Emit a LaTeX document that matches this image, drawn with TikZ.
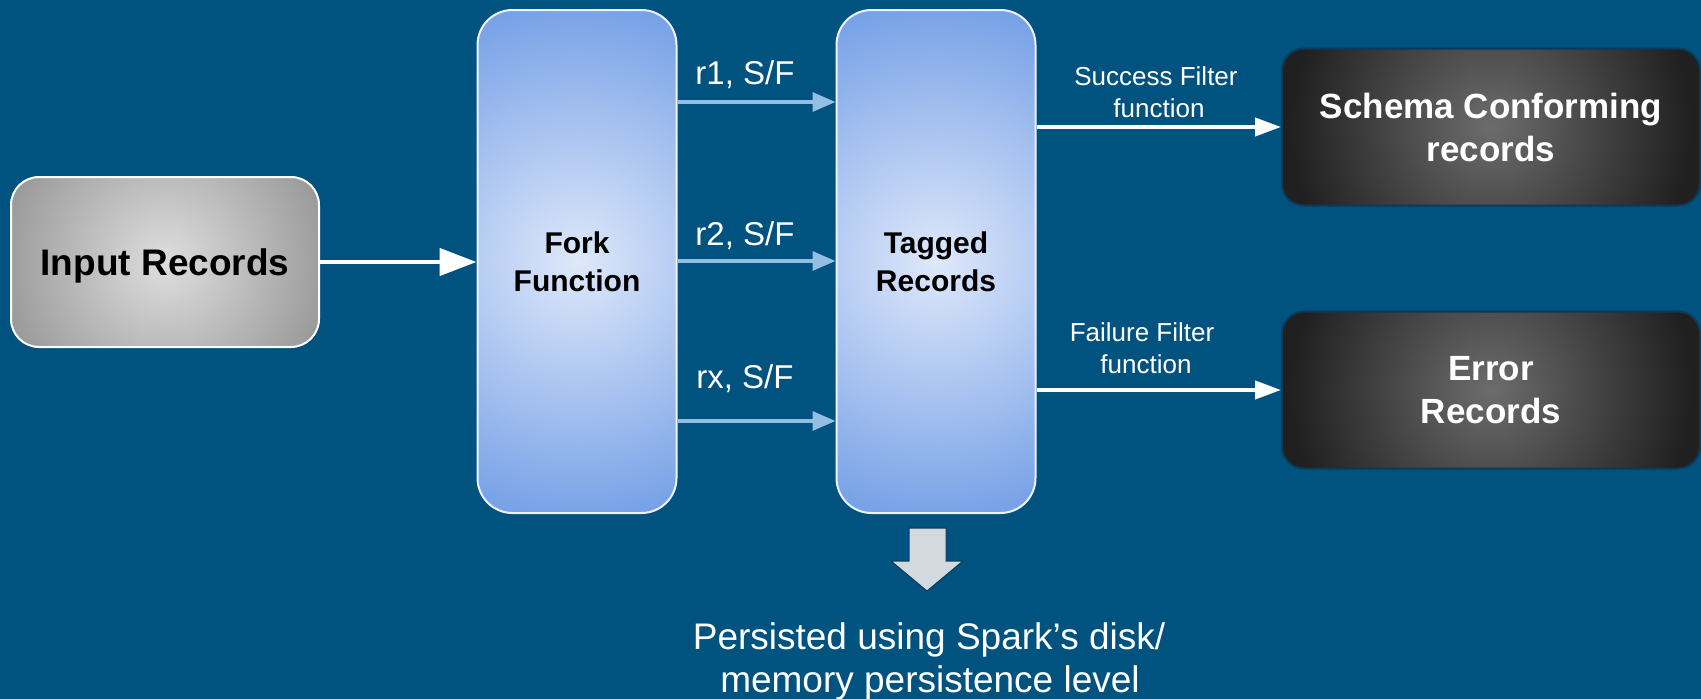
\documentclass[tikz,border=0pt]{standalone}
\usepackage{fontspec}
\setmainfont{Liberation Sans}
\usetikzlibrary{arrows.meta}

\definecolor{bg}{RGB}{0,82,127}
\definecolor{sfblue}{RGB}{148,190,226}
\definecolor{fninner}{RGB}{222,232,250}
\definecolor{fnouter}{RGB}{120,162,231}
\definecolor{grayinner}{RGB}{222,222,222}
\definecolor{grayouter}{RGB}{150,150,150}
\definecolor{darkinner}{RGB}{108,108,108}
\definecolor{darkouter}{RGB}{32,32,32}
\definecolor{darkedge}{RGB}{12,58,88}
\definecolor{downfill}{RGB}{211,218,223}

% circular glows at their natural size
\pgfdeclareradialshading{grayglow}{\pgfpointorigin}{color(0bp)=(grayinner); color(175bp)=(grayouter); color(260bp)=(grayouter)}
\pgfdeclareradialshading{fnglow}{\pgfpointorigin}{color(0bp)=(fninner); color(255bp)=(fnouter); color(300bp)=(fnouter)}
\pgfdeclareradialshading{darkglow}{\pgfpointorigin}{color(0bp)=(darkinner); color(200bp)=(darkouter); color(260bp)=(darkouter)}

\tikzset{
  glow/.style={path picture={\node[inner sep=0pt, outer sep=0pt]
      at (path picture bounding box.center) {\pgfuseshading{#1}};}},
  inbox/.style={rounded corners=28pt, draw=white, line width=2pt,
    fill=grayouter, glow=grayglow,
    minimum width=308pt, minimum height=170pt, inner sep=0pt,
    text depth=0pt, font=\bfseries\fontsize{37}{44}\selectfont},
  fnbox/.style={rounded corners=35pt, draw={rgb,255:red,238;green,243;blue,251}, line width=2pt,
    fill=fnouter, glow=fnglow,
    minimum width=199pt, minimum height=503pt, inner sep=0pt, align=center,
    font=\bfseries\fontsize{30}{38}\selectfont},
  darkbox/.style={rounded corners=22pt, draw=darkedge, line width=2pt,
    fill=darkouter, glow=darkglow, text=white,
    minimum width=418pt, minimum height=157pt, inner sep=0pt, align=center,
    font=\bfseries\fontsize{35}{43}\selectfont},
  bigarrow/.style={draw=white, line width=4.5pt, -{Triangle[length=37pt,width=27pt,fill=white]}},
  tagarrow/.style={draw=sfblue, line width=3.3pt, -{Triangle[length=23pt,width=19pt,fill=sfblue]}},
  filterarrow/.style={draw=white, line width=4pt, -{Triangle[length=26pt,width=18pt,fill=white]}},
  tagtext/.style={text=white, anchor=base, inner sep=0pt, font=\fontsize{33}{40}\selectfont},
  filtertext/.style={text=white, anchor=base, inner sep=0pt, font=\fontsize{26}{32}\selectfont},
  notetext/.style={text=white, anchor=base, inner sep=0pt, font=\fontsize{37}{43}\selectfont}
}

\begin{document}
\begin{tikzpicture}[x=1pt,y=-1pt]
  % background
  \fill[bg] (0,0) rectangle (1701,699);
  \useasboundingbox (0,0) rectangle (1701,699);

  % boxes
  \node[inbox] (in) at (165,262) {Input Records};
  \node[fnbox] (fork) at (577,261.5) {Fork\\Function};
  \node[fnbox] (tag) at (936,261.5) {Tagged\\Records};
  \node[darkbox] (sc) at (1491,127) {Schema Conforming\\records};
  \node[darkbox] (err) at (1491,390) {Error\\Records};

  % input to fork
  \draw[bigarrow] (in.east) -- (in.east -| fork.west);

  % tagged record streams
  \draw[tagarrow] (fork.east |- 0,102) -- (tag.west |- 0,102);
  \draw[tagarrow] (fork.east |- 0,261) -- (tag.west |- 0,261);
  \draw[tagarrow] (fork.east |- 0,421) -- (tag.west |- 0,421);
  \node[tagtext] (l1) at (745,84) {r1, S/F};
  \node[tagtext] (l2) at (745,245) {r2, S/F};
  \node[tagtext] (l3) at (745,388) {rx, S/F};

  % filters
  \draw[filterarrow] (tag.east |- 0,127) -- (sc.west |- 0,127);
  \draw[filterarrow] (tag.east |- 0,390) -- (err.west |- 0,390);
  \node[filtertext] (s1) at (1156,85) {Success Filter};
  \node[filtertext] (s2) at (1159,117) {function};
  \node[filtertext] (f1) at (1142,341) {Failure Filter};
  \node[filtertext] (f2) at (1146,373) {function};

  % persistence note
  \filldraw[fill=downfill, draw=darkedge, line width=1pt]
    (909,528) -- (946,528) -- (946,561) -- (963,561) -- (927,591)
    -- (891,561) -- (909,561) -- cycle;
  \node[notetext] (p1) at (929,649) {Persisted using Spark’s disk/};
  \node[notetext] (p2) at (930,692) {memory persistence level};
\end{tikzpicture}
\end{document}
